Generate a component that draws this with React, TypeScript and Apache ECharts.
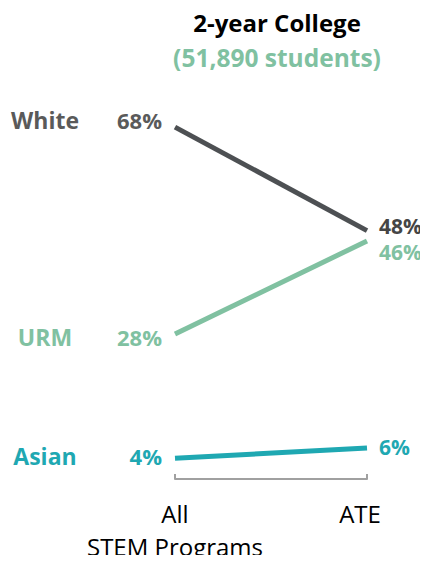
import React, { useEffect, useRef } from "react";
import * as echarts from "echarts";

const categories = ["All\nSTEM Programs", "ATE"];
const seriesNames = ["White", "URM", "Asian"];
const whiteValues = [68, 48];
const urmValues = [28, 46];
const asianValues = [4, 6];
const colors = ["#4d5053", "#80c1a1", "#1fa8b2"];
const nameColors = ["#5a5a5a", "#80c1a1", "#1fa8b2"];
const startOffsets = [[0, -7], [0, 3], [0, -2]];
const endOffsets = [[0, -5], [0, 11], [0, -1]];

const FONT = "'Open Sans', sans-serif";

export default function App() {
  const ref = useRef<HTMLDivElement>(null);
  useEffect(() => {
    if (!ref.current) return;
    const chart = echarts.init(ref.current, null, { renderer: "svg" });
    const all = [whiteValues, urmValues, asianValues];
    const series = all.map((vals, i) => ({
      type: "line",
      name: seriesNames[i],
      data: vals.map((v, j) => ({
        value: v,
        label:
          j === 0
            ? {
                show: true,
                position: "left",
                distance: 13,
                offset: startOffsets[i],
                formatter: () => `{n|${seriesNames[i]}}{v|${v}%}`,
                rich: {
                  n: {
                    width: 134,
                    align: "center",
                    fontSize: 23,
                    fontWeight: "bold",
                    fontFamily: FONT,
                    color: nameColors[i],
                  },
                  v: {
                    width: 50,
                    align: "right",
                    fontSize: 22,
                    fontWeight: "bold",
                    fontFamily: FONT,
                    color: nameColors[i],
                  },
                },
              }
            : {
                show: true,
                position: "right",
                distance: 12,
                offset: endOffsets[i],
                formatter: `${v}%`,
                fontSize: 21,
                lineHeight: 18,
                fontWeight: "bold",
                fontFamily: FONT,
                color: i === 0 ? "#454545" : nameColors[i],
              },
      })),
      symbol: "circle",
      symbolSize: 0.01,
      showSymbol: true,
      lineStyle: { width: 5, color: colors[i], cap: "butt" },
      itemStyle: { color: colors[i] },
    }));
    chart.setOption({
      animation: false,
      title: {
        text: "2-year College",
        subtext: "(51,890 students)",
        left: 272,
        top: 5,
        textAlign: "center",
        itemGap: 11,
        textStyle: {
          fontFamily: FONT,
          fontWeight: "bold",
          fontSize: 24,
          color: "#000",
        },
        subtextStyle: {
          fontFamily: FONT,
          fontWeight: "bold",
          fontSize: 24.5,
          color: "#80c1a1",
        },
      },
      grid: { left: 175, right: 61, top: 65, bottom: 83 },
      xAxis: {
        type: "category",
        data: categories,
        boundaryGap: false,
        axisLine: { lineStyle: { color: "#a0a0a0", width: 2 } },
        axisTick: {
          show: true,
          inside: true,
          length: 5,
          lineStyle: { color: "#a0a0a0", width: 2 },
        },
        axisLabel: {
          interval: 0,
          hideOverlap: false,
          margin: 18,
          fontFamily: FONT,
          fontSize: 24,
          lineHeight: 33,
          color: "#000",
          formatter: (val: string) => (val === "ATE" ? "{a|ATE}" : val),
          rich: {
            a: {
              fontFamily: FONT,
              fontSize: 24,
              lineHeight: 33,
              color: "#000",
              padding: [0, 14, 0, 0],
            },
          },
        },
      },
      yAxis: {
        type: "value",
        min: 0,
        max: 80,
        show: false,
      },
      series,
    });
    return () => chart.dispose();
  }, []);
  return <div ref={ref} style={{ width: 428, height: 563, margin: -8 }} />;
}
